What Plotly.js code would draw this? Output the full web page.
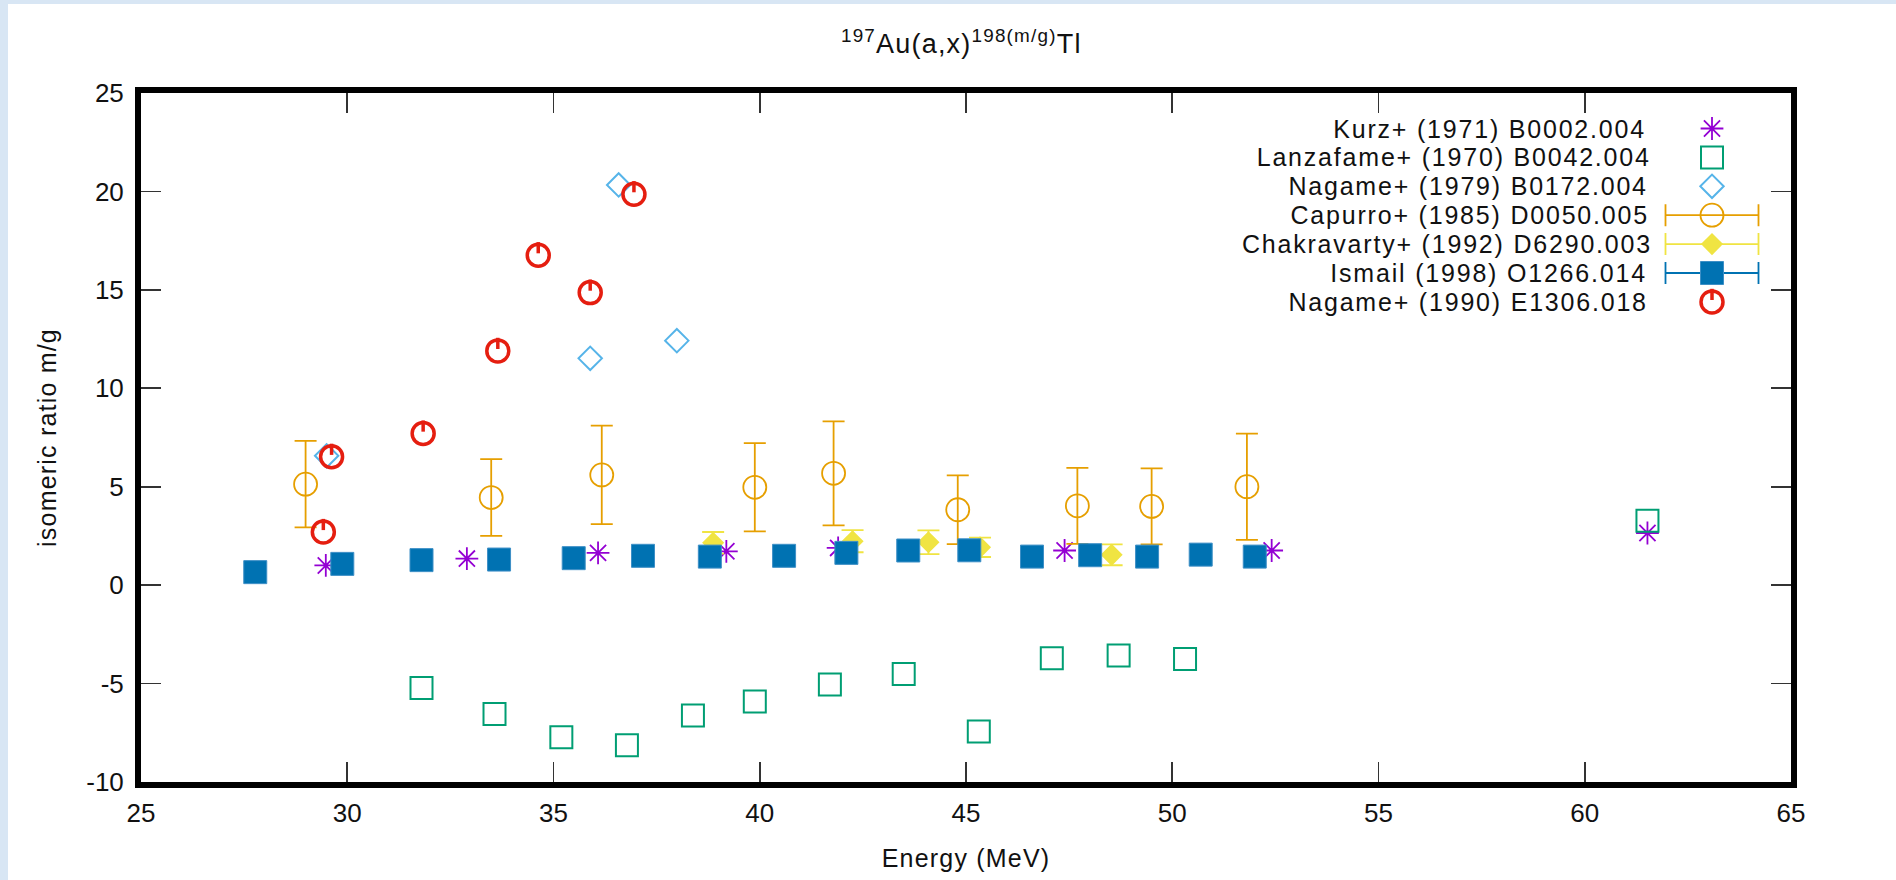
<!DOCTYPE html>
<html>
<head>
<meta charset="utf-8">
<script src="https://cdn.plot.ly/plotly-3.0.1.min.js"></script>
<style>
  html, body { margin: 0; padding: 0; }
  body { width: 1896px; height: 880px; position: relative; overflow: hidden;
         background: #d8e6f4; }
  #sheet { position: absolute; left: 8px; top: 4px; right: 0; bottom: 0; background: #ffffff; }
  #chart { position: absolute; left: 0; top: 0; width: 1896px; height: 880px; }
  #chart .annotation-text { letter-spacing: 1.8px; }
  #chart .xtitle, #chart .ytitle { letter-spacing: 1.2px; }
  #chart .gtitle { letter-spacing: 1.2px; }
</style>
</head>
<body>
<div id="sheet"></div>
<div id="chart"></div>
<script>
// ---------------- data ----------------
const kurzE  = [29.48, 32.90, 36.08, 39.19, 41.90, 47.39, 52.41, 61.52];
const kurzR  = [1.00, 1.35, 1.64, 1.72, 1.89, 1.76, 1.76, 2.65];

const lanzE  = [31.80, 33.57, 35.19, 36.78, 38.38, 39.88, 41.70, 43.49, 45.31, 47.08, 48.70, 50.31, 61.52];
const lanzR  = [-5.22, -6.55, -7.73, -8.13, -6.62, -5.91, -5.05, -4.51, -7.44, -3.72, -3.58, -3.75, 3.27];

const nag79E = [29.50, 35.89, 36.58, 37.99];
const nag79R = [6.57, 11.52, 20.33, 12.42];

const capE   = [28.99, 33.49, 36.17, 39.88, 41.79, 44.80, 47.70, 49.50, 51.81];
const capR   = [5.13, 4.45, 5.60, 4.97, 5.68, 3.83, 4.03, 4.00, 5.00];
const capErr = [2.20, 1.95, 2.50, 2.24, 2.64, 1.75, 1.93, 1.93, 2.70];

const chakE   = [38.87, 42.25, 44.09, 45.34, 48.53];
const chakR   = [2.15, 2.23, 2.18, 1.92, 1.54];
const chakErr = [0.55, 0.56, 0.60, 0.49, 0.53];

const ismE = [27.77, 29.88, 31.80, 33.68, 35.49, 37.17, 38.79, 40.59, 42.10, 43.60, 45.08, 46.60, 48.01, 49.39, 50.69, 52.00];
const ismR = [0.66, 1.08, 1.27, 1.30, 1.37, 1.49, 1.45, 1.49, 1.64, 1.76, 1.77, 1.45, 1.52, 1.45, 1.55, 1.45];

const nag90E = [29.42, 29.62, 31.84, 33.65, 34.63, 35.89, 36.95];
const nag90R = [2.70, 6.52, 7.70, 11.90, 16.76, 14.86, 19.86];

const seriesNames = [
  'Kurz+ (1971) B0002.004',
  'Lanzafame+ (1970) B0042.004',
  'Nagame+ (1979) B0172.004',
  'Capurro+ (1985) D0050.005',
  'Chakravarty+ (1992) D6290.003',
  'Ismail (1998) O1266.014',
  'Nagame+ (1990) E1306.018'
];
const xTickVals = [25, 30, 35, 40, 45, 50, 55, 60, 65];
const xTickText = ['25', '30', '35', '40', '45', '50', '55', '60', '65'];
const yTickVals = [-10, -5, 0, 5, 10, 15, 20, 25];
const yTickText = ['-10', '-5', '0', '5', '10', '15', '20', '25'];
const xRange = [25, 65];
const yRange = [-10, 25];
const titleText = '<sup>197</sup>Au(a,x)<sup>198(m/g)</sup>Tl';
const xTitle = 'Energy (MeV)';
const yTitle = 'isomeric ratio m/g';

// ---------------- styling / layout ----------------
const W = 1896, H = 880;
const M = {l: 141, r: 105, t: 93, b: 98};
const plotW = W - M.l - M.r, plotH = H - M.t - M.b;
const FONT = 'Liberation Sans, Arial, Helvetica, sans-serif';
const C = {
  kurz: '#9400d3', lanz: '#009e73', nag79: '#56b4e9', cap: '#e69f00',
  chak: '#f0e442', ism: '#0072b2', nag90: '#e51e10'
};

// stroke of the "power" symbol: short vertical line above centre of the circle
const strokeOffsetPx = 7.5;
const yPerPx = (yRange[1] - yRange[0]) / plotH;
const nag90Stroke = nag90R.map(v => v + strokeOffsetPx * yPerPx);

const traces = [
  {x: kurzE, y: kurzR, mode: 'markers', type: 'scatter',
   marker: {symbol: 'asterisk-open', size: 19, color: C.kurz, line: {color: C.kurz, width: 1.8}}},
  {x: lanzE, y: lanzR, mode: 'markers', type: 'scatter',
   marker: {symbol: 'square-open', size: 22, color: C.lanz, line: {color: C.lanz, width: 2}}},
  {x: nag79E, y: nag79R, mode: 'markers', type: 'scatter',
   marker: {symbol: 'diamond-open', size: 18, color: C.nag79, line: {color: C.nag79, width: 2}}},
  {x: capE, y: capR, mode: 'markers', type: 'scatter',
   error_y: {type: 'data', array: capErr, visible: true, color: C.cap, thickness: 1.8, width: 11},
   marker: {symbol: 'circle-open', size: 23, color: C.cap, line: {color: C.cap, width: 1.8}}},
  {x: chakE, y: chakR, mode: 'markers', type: 'scatter',
   error_y: {type: 'data', array: chakErr, visible: true, color: C.chak, thickness: 1.8, width: 11},
   marker: {symbol: 'diamond', size: 17, color: C.chak, line: {width: 0}}},
  {x: ismE, y: ismR, mode: 'markers', type: 'scatter',
   marker: {symbol: 'square', size: 23, color: C.ism, line: {color: '#3d8fc6', width: 1}}},
  {x: nag90E, y: nag90R, mode: 'markers', type: 'scatter',
   marker: {symbol: 'circle-open', size: 22, color: C.nag90, line: {color: C.nag90, width: 3.5}}},
  {x: nag90E, y: nag90Stroke, mode: 'markers', type: 'scatter',
   marker: {symbol: 'line-ns-open', size: 8, color: C.nag90, line: {color: C.nag90, width: 3.5}}}
];

// ---------------- custom gnuplot-style key (text right, sample left) ----------------
const key = {textRightPx: 1628, sampleXPx: 1712, row0Px: 128.5, rowStepPx: 28.9, barHalfPx: 46.5};
const fx = px => (px - M.l) / plotW;
const fy = py => (H - M.b - py) / plotH;
const keyY = i => fy(key.row0Px + i * key.rowStepPx);
const keyStyles = [
  {marker: traces[0].marker},
  {marker: traces[1].marker},
  {marker: traces[2].marker},
  {marker: traces[3].marker, bar: C.cap},
  {marker: traces[4].marker, bar: C.chak},
  {marker: traces[5].marker, bar: C.ism},
  {marker: traces[6].marker}
];
const annotations = [];
keyStyles.forEach((s, i) => {
  const t = {x: [fx(key.sampleXPx)], y: [keyY(i)], xaxis: 'x2', yaxis: 'y2',
             mode: 'markers', type: 'scatter', marker: s.marker};
  if (s.bar) {
    t.error_x = {type: 'data', array: [key.barHalfPx / plotW], visible: true,
                 color: s.bar, thickness: 1.8, width: 11};
  }
  traces.push(t);
  annotations.push({xref: 'paper', yref: 'paper', x: fx(key.textRightPx), y: keyY(i),
    xanchor: 'right', yanchor: 'middle', showarrow: false, text: seriesNames[i],
    font: {family: FONT, size: 25, color: '#111'}});
});
traces.push({x: [fx(key.sampleXPx)], y: [keyY(6) + strokeOffsetPx / plotH], xaxis: 'x2', yaxis: 'y2',
  mode: 'markers', type: 'scatter', marker: traces[7].marker});

const axisCommon = {
  showline: true, linewidth: 6, linecolor: '#000', mirror: 'ticks',
  ticks: 'inside', ticklen: 20, tickwidth: 1.6, tickcolor: '#333',
  showgrid: false, zeroline: false,
  tickfont: {family: FONT, size: 26, color: '#111'},
  tickmode: 'array'
};

const layout = {
  width: W, height: H,
  margin: M,
  paper_bgcolor: 'rgba(0,0,0,0)', plot_bgcolor: '#ffffff',
  showlegend: false,
  font: {family: FONT, color: '#111'},
  title: {text: titleText, font: {family: FONT, size: 27, color: '#111'},
          xref: 'container', x: 0.507, xanchor: 'center', yref: 'container', y: 1 - 44 / H, yanchor: 'middle'},
  xaxis: Object.assign({}, axisCommon, {range: xRange, tickvals: xTickVals, ticktext: xTickText,
          title: {text: xTitle, font: {family: FONT, size: 25, color: '#111'}, standoff: 24},
          ticklabelstandoff: 3}),
  yaxis: Object.assign({}, axisCommon, {range: yRange, tickvals: yTickVals, ticktext: yTickText,
          title: {text: yTitle, font: {family: FONT, size: 25, color: '#111'}, standoff: 24},
          ticklabelstandoff: 6}),
  xaxis2: {overlaying: 'x', anchor: 'y2', range: [0, 1], visible: false, fixedrange: true},
  yaxis2: {overlaying: 'y', anchor: 'x2', range: [0, 1], visible: false, fixedrange: true},
  annotations: annotations
};

Plotly.newPlot('chart', traces, layout, {staticPlot: true, displayModeBar: false});
</script>
</body>
</html>
